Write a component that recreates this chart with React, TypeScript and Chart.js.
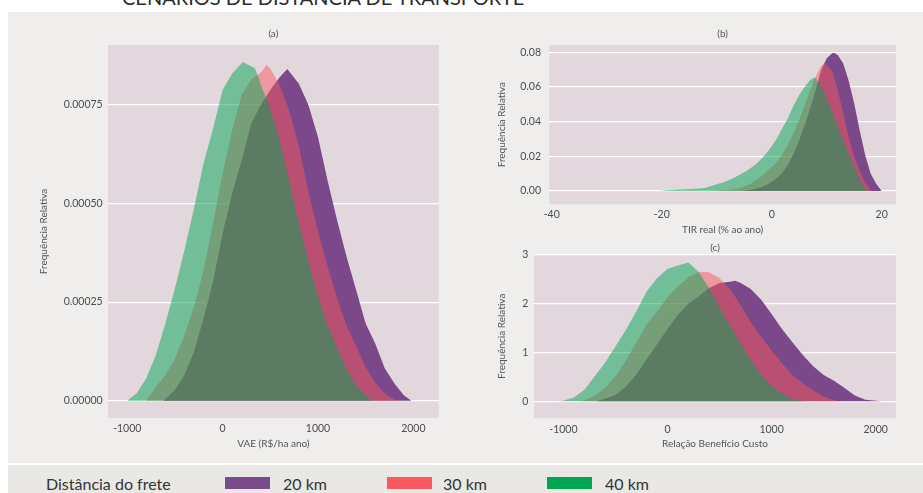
import { useEffect, useRef } from "react";
import { Chart, registerables } from "chart.js";
Chart.register(...registerables);

const FONT = "Lato, 'Open Sans', sans-serif";

// ---------- Panel (a): VAE (R$/ha ano) ----------
const vae20X = [-620, -500, -400, -300, -200, -100, 0, 100, 200, 300, 400, 500, 600, 678, 800, 900, 1000, 1100, 1200, 1300, 1400, 1500, 1600, 1700, 1800, 1900, 1980];
const vae20Y = [0, 2.7e-5, 6.5e-5, 12.4e-5, 20.9e-5, 30.2e-5, 42.4e-5, 52.6e-5, 61.0e-5, 70.3e-5, 75.0e-5, 78.8e-5, 82.1e-5, 84.1e-5, 80.4e-5, 75.0e-5, 66.9e-5, 55.9e-5, 45.8e-5, 36.5e-5, 28.1e-5, 19.6e-5, 14.5e-5, 8.2e-5, 4.4e-5, 1.4e-5, 0];
const vae30X = [-800, -700, -600, -500, -400, -300, -200, -100, 0, 100, 200, 300, 400, 461, 500, 600, 700, 800, 900, 1000, 1100, 1200, 1300, 1400, 1500, 1600, 1700, 1800, 1830];
const vae30Y = [0, 3.5e-5, 6.5e-5, 10.7e-5, 16.6e-5, 23.8e-5, 33.1e-5, 45.0e-5, 57.6e-5, 68.6e-5, 77.5e-5, 81.5e-5, 83.2e-5, 85.1e-5, 84.2e-5, 80.0e-5, 73.4e-5, 64.5e-5, 53.0e-5, 43.0e-5, 34.0e-5, 26.0e-5, 19.0e-5, 13.8e-5, 8.5e-5, 4.5e-5, 1.8e-5, 0.3e-5, 0];
const vae40X = [-1000, -900, -800, -700, -600, -500, -400, -300, -200, -100, 0, 100, 213, 340, 400, 500, 600, 700, 800, 900, 1000, 1100, 1200, 1300, 1400, 1500, 1580];
const vae40Y = [0, 1.9e-5, 5.7e-5, 11.6e-5, 19.6e-5, 28.5e-5, 38.2e-5, 48.8e-5, 60.2e-5, 69.0e-5, 78.8e-5, 83.0e-5, 85.9e-5, 84.3e-5, 80.2e-5, 74.0e-5, 66.0e-5, 55.5e-5, 45.0e-5, 35.5e-5, 26.5e-5, 19.0e-5, 13.5e-5, 8.0e-5, 4.0e-5, 1.3e-5, 0];
const vaeXTicks = [-1000, 0, 1000, 2000];
const vaeYTicks = [0, 0.00025, 0.0005, 0.00075];

// ---------- Panel (b): TIR real (% ao ano) ----------
const tir20X = [-6, -5, -4, -3, -2, -1, 0, 1, 2, 3, 4, 5, 6, 7, 8, 9, 10, 11, 11.3, 12, 13, 14, 15, 16, 17, 18, 19, 20];
const tir20Y = [0, 0.0002, 0.0006, 0.0012, 0.0021, 0.0035, 0.0052, 0.0077, 0.0106, 0.0154, 0.0216, 0.0293, 0.038, 0.0476, 0.0582, 0.0698, 0.0765, 0.0794, 0.0798, 0.0785, 0.0736, 0.0636, 0.0505, 0.0351, 0.0206, 0.01, 0.0042, 0];
const tir30X = [-11, -10, -9, -8, -7, -6, -5, -4, -3, -2, -1, 0, 1, 2, 3, 4, 5, 6, 7, 8, 9, 9.5, 10, 11, 12, 13, 14, 15, 16, 17, 18, 18.5];
const tir30Y = [0, 0.0002, 0.0004, 0.0006, 0.001, 0.0015, 0.0027, 0.0039, 0.0058, 0.0081, 0.011, 0.0139, 0.0168, 0.0216, 0.027, 0.0335, 0.0409, 0.0495, 0.0582, 0.0659, 0.0721, 0.0733, 0.0725, 0.0694, 0.0582, 0.0451, 0.0308, 0.02, 0.0114, 0.0048, 0.0004, 0];
const tir40X = [-20.5, -20, -19, -18, -17, -16, -15, -14, -13, -12, -11, -10, -9, -8, -7, -6, -5, -4, -3, -2, -1, 0, 1, 2, 3, 4, 5, 6, 7, 7.7, 8, 9, 10, 11, 12, 13, 14, 15, 16, 17, 17.5];
const tir40Y = [0, 0.0002, 0.0004, 0.0006, 0.0008, 0.001, 0.0012, 0.0013, 0.0015, 0.0019, 0.0029, 0.0039, 0.0048, 0.006, 0.0073, 0.0091, 0.0108, 0.0129, 0.0152, 0.0181, 0.0216, 0.0258, 0.0307, 0.0366, 0.0424, 0.0495, 0.0553, 0.0601, 0.064, 0.0655, 0.065, 0.0601, 0.0534, 0.0457, 0.037, 0.0293, 0.0216, 0.0139, 0.0066, 0.0008, 0];
const tirXTicks = [-40, -20, 0, 20];
const tirYTicks = [0, 0.02, 0.04, 0.06, 0.08];

// ---------- Panel (c): Relação Benefício Custo ----------
const rbc20X = [-680, -600, -500, -400, -300, -200, -100, 0, 100, 200, 300, 400, 500, 600, 650, 700, 800, 900, 1000, 1100, 1200, 1300, 1400, 1500, 1600, 1700, 1800, 1900, 2000, 2060];
const rbc20Y = [0, 0.05, 0.13, 0.3, 0.55, 0.86, 1.17, 1.48, 1.77, 2.0, 2.15, 2.32, 2.42, 2.45, 2.47, 2.43, 2.3, 2.08, 1.79, 1.48, 1.21, 0.95, 0.72, 0.54, 0.42, 0.27, 0.12, 0.03, 0.01, 0];
const rbc30X = [-830, -800, -700, -600, -500, -400, -300, -200, -100, 0, 100, 200, 300, 360, 400, 500, 600, 700, 800, 900, 1000, 1100, 1200, 1300, 1400, 1500, 1600, 1650];
const rbc30Y = [0, 0.01, 0.12, 0.27, 0.51, 0.83, 1.2, 1.58, 1.84, 2.13, 2.35, 2.54, 2.64, 2.65, 2.64, 2.52, 2.3, 1.98, 1.62, 1.32, 1.04, 0.78, 0.54, 0.37, 0.22, 0.1, 0.02, 0];
const rbc40X = [-1050, -1000, -900, -800, -700, -600, -500, -400, -300, -200, -100, 0, 100, 200, 300, 400, 500, 600, 700, 800, 900, 1000, 1100, 1200, 1300];
const rbc40Y = [0, 0.01, 0.08, 0.23, 0.51, 0.79, 1.12, 1.46, 1.84, 2.25, 2.52, 2.71, 2.78, 2.84, 2.65, 2.32, 1.92, 1.57, 1.19, 0.85, 0.54, 0.32, 0.16, 0.05, 0];
const rbcXTicks = [-1000, 0, 1000, 2000];
const rbcYTicks = [0, 1, 2, 3];

// ---------- Legend ----------
const legendTitle = "Distância do frete";
const seriesNames = ["20 km", "30 km", "40 km"];
const legendColors = ["#7b4a8b", "#fa5a5f", "#00a651"];
const fillColors = ["rgba(123,73,138,1)", "rgba(248,88,94,0.5)", "rgba(0,166,81,0.5)"];

type PanelSpec = {
  label: string;
  xs: number[][];
  ys: number[][];
  xMin: number; xMax: number; yMin: number; yMax: number;
  xTicks: number[]; yTicks: number[];
  yFmt: (v: number) => string;
  xTitle: string;
  left: number; top: number; w: number; h: number;
  padTop: number; padRight: number;
  yAxisW: number; xAxisH: number;
  yTickPad: number; xTickPad: number;
  yTitlePad: number; xTitlePad: number;
  titleY: number;
};

const panels: PanelSpec[] = [
  {
    label: "(a)", xs: [vae20X, vae30X, vae40X], ys: [vae20Y, vae30Y, vae40Y],
    xMin: -1202, xMax: 2266, yMin: -0.0000439, yMax: 0.000902,
    xTicks: vaeXTicks, yTicks: vaeYTicks, yFmt: (v) => v.toFixed(5), xTitle: "VAE (R$/ha ano)",
    left: 8, top: 12, w: 460, h: 450, padTop: 33, padRight: 29.3, yAxisW: 100, xAxisH: 44,
    yTickPad: 5.3, xTickPad: 4.7, yTitlePad: 29.3, xTitlePad: 12, titleY: 22,
  },
  {
    label: "(b)", xs: [tir20X, tir30X, tir40X], ys: [tir20Y, tir30Y, tir40Y],
    xMin: -40.44, xMax: 22.6, yMin: -0.00767, yMax: 0.0842,
    xTicks: tirXTicks, yTicks: tirYTicks, yFmt: (v) => v.toFixed(2), xTitle: "TIR real (% ao ano)",
    left: 468, top: 12, w: 455, h: 226, padTop: 33, padRight: 27, yAxisW: 81.3, xAxisH: 33.7,
    yTickPad: 8.3, xTickPad: 4.4, yTitlePad: 27.7, xTitlePad: 2.7, titleY: 22,
  },
  {
    label: "(c)", xs: [rbc20X, rbc30X, rbc40X], ys: [rbc20Y, rbc30Y, rbc40Y],
    xMin: -1282, xMax: 2195, yMin: -0.348, yMax: 3.01,
    xTicks: rbcXTicks, yTicks: rbcYTicks, yFmt: (v) => String(v), xTitle: "Relação Benefício Custo",
    left: 468, top: 238, w: 455, h: 224, padTop: 16.3, padRight: 27, yAxisW: 66, xAxisH: 43.7,
    yTickPad: 5.7, xTickPad: 5.4, yTitlePad: 27.7, xTitlePad: 12.7, titleY: 9.7,
  },
];

const tickFont = { family: FONT, size: 10.5 };
const titleFont = { family: FONT, size: 10 };

function Panel({ spec }: { spec: PanelSpec }) {
  const ref = useRef<HTMLCanvasElement>(null);
  useEffect(() => {
    const bgPlugin = {
      id: "plotBg",
      beforeDraw(chart: any) {
        const { ctx, chartArea: a } = chart;
        ctx.save();
        ctx.fillStyle = "#e3d7de";
        ctx.fillRect(a.left, a.top, a.right - a.left, a.bottom - a.top);
        ctx.restore();
      },
    };
    const titlePlugin = {
      id: "panelTitle",
      afterDraw(chart: any) {
        const { ctx, chartArea: a } = chart;
        ctx.save();
        ctx.font = `10px ${FONT}`;
        ctx.fillStyle = "#555";
        ctx.textAlign = "center";
        ctx.textBaseline = "middle";
        ctx.fillText(spec.label, (a.left + a.right) / 2, spec.titleY);
        ctx.restore();
      },
    };
    const datasets = spec.xs.map((xs, i) => ({
      label: seriesNames[i],
      data: xs.map((x, j) => ({ x, y: spec.ys[i][j] })),
      backgroundColor: fillColors[i],
      borderColor: "transparent",
      borderWidth: 0,
      pointRadius: 0,
      fill: "origin",
      tension: 0,
      order: 3 - i,
    }));
    const chart = new Chart(ref.current as HTMLCanvasElement, {
      type: "line",
      data: { datasets } as any,
      options: {
        animation: false,
        responsive: false,
        maintainAspectRatio: false,
        layout: { padding: { top: spec.padTop, right: spec.padRight, left: 0, bottom: 0 } },
        plugins: { legend: { display: false }, tooltip: { enabled: false } },
        scales: {
          x: {
            type: "linear",
            min: spec.xMin,
            max: spec.xMax,
            grid: { display: false, drawTicks: false },
            border: { display: false },
            ticks: {
              padding: spec.xTickPad,
              font: tickFont,
              color: "#4d4d4d",
              autoSkip: false,
              maxRotation: 0,
              callback: (v: any) => String(v),
            },
            afterBuildTicks: (s: any) => {
              s.ticks = spec.xTicks.map((v) => ({ value: v }));
            },
            afterFit: (s: any) => {
              s.height = spec.xAxisH;
            },
            title: {
              display: true,
              text: spec.xTitle,
              font: titleFont,
              color: "#555",
              padding: { top: 0, bottom: spec.xTitlePad },
            },
          },
          y: {
            type: "linear",
            min: spec.yMin,
            max: spec.yMax,
            grid: { display: true, drawTicks: false, color: "#ffffff", lineWidth: 1.2 },
            border: { display: false },
            ticks: {
              padding: spec.yTickPad,
              font: tickFont,
              color: "#4d4d4d",
              autoSkip: false,
              callback: (v: any) => spec.yFmt(Number(v)),
            },
            afterBuildTicks: (s: any) => {
              s.ticks = spec.yTicks.map((v) => ({ value: v }));
            },
            afterFit: (s: any) => {
              s.width = spec.yAxisW;
            },
            title: {
              display: true,
              text: "Frequência Relativa",
              font: titleFont,
              color: "#555",
              padding: { top: spec.yTitlePad, bottom: 0 },
            },
          },
        },
      } as any,
      plugins: [bgPlugin, titlePlugin],
    });
    return () => chart.destroy();
  }, [spec]);
  return (
    <canvas
      ref={ref}
      width={spec.w}
      height={spec.h}
      style={{ position: "absolute", left: spec.left, top: spec.top, width: spec.w, height: spec.h }}
    />
  );
}

export default function App() {
  const swatchLeft = [225, 387, 547];
  const textLeft = [283, 443, 605];
  return (
    <div
      style={{
        position: "fixed",
        left: 0,
        top: 0,
        width: 923,
        height: 493,
        background: "#ffffff",
        overflow: "hidden",
        fontFamily: FONT,
      }}
    >
      <div
        style={{
          position: "absolute",
          left: 122,
          top: -13,
          fontSize: 20,
          lineHeight: "20px",
          color: "#2b2b2b",
          whiteSpace: "nowrap",
        }}
      >
        CENÁRIOS DE DISTÂNCIA DE TRANSPORTE
      </div>
      <div style={{ position: "absolute", left: 8, top: 12, width: 915, height: 451, background: "#efeeec" }} />
      <div style={{ position: "absolute", left: 8, top: 465, width: 915, height: 28, background: "#e9e8e5" }} />
      {panels.map((p) => (
        <Panel key={p.label} spec={p} />
      ))}
      <div
        style={{
          position: "absolute",
          left: 46,
          top: 474,
          fontSize: 16,
          lineHeight: "20px",
          color: "#333",
          whiteSpace: "nowrap",
        }}
      >
        {legendTitle}
      </div>
      {seriesNames.map((n, i) => (
        <div key={n}>
          <div
            style={{
              position: "absolute",
              left: swatchLeft[i],
              top: 477,
              width: 45,
              height: 12,
              background: legendColors[i],
            }}
          />
          <div
            style={{
              position: "absolute",
              left: textLeft[i],
              top: 474,
              fontSize: 16,
              lineHeight: "20px",
              color: "#333",
              whiteSpace: "nowrap",
            }}
          >
            {n}
          </div>
        </div>
      ))}
    </div>
  );
}
